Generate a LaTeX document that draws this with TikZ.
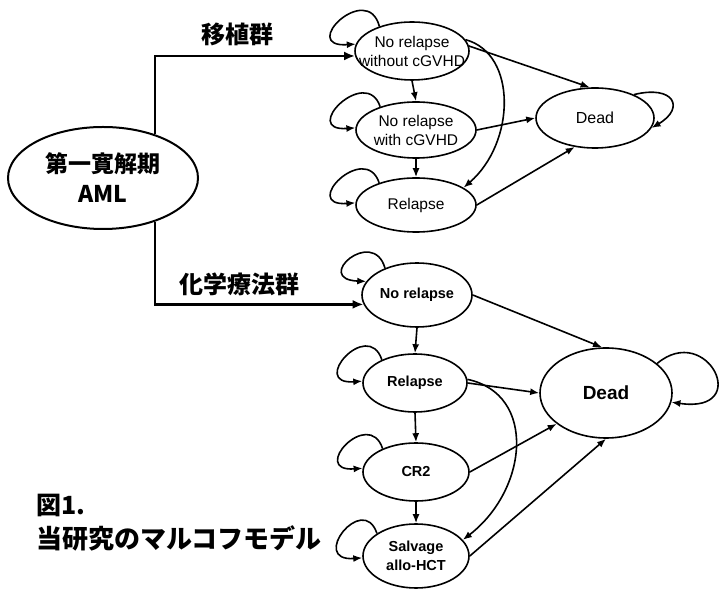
\documentclass[tikz,border=0pt]{standalone}
\usepackage{fontspec}
\setmainfont{Liberation Sans}
\newfontfamily\cjk{Noto Sans CJK JP}
\usetikzlibrary{shapes.geometric,arrows.meta}
\begin{document}
\begin{tikzpicture}[x=1pt,y=1pt,
  st/.style={ellipse,draw,line width=1.6pt,fill=white,inner xsep=-14pt,inner ysep=-8pt,align=center,font=\fontsize{15.5}{19}\selectfont},
  stb/.style={st,font=\fontsize{14.5}{19}\selectfont\bfseries},
  main/.style={line width=2.2pt,-{Latex[length=11pt,width=9pt]}},
  ed/.style={line width=1.6pt,-{Latex[length=9pt,width=7pt]}},
  grp/.style={font=\cjk\bfseries\fontsize{24}{26}\selectfont},
  captext/.style={anchor=west,inner sep=0pt,font=\cjk\bfseries\fontsize{26}{28}\selectfont}]
\useasboundingbox (0,0) rectangle (725,591);
% top cluster
\node[st,minimum width=114,minimum height=58] (n1) at (412,540) {No relapse\\without cGVHD};
\node[st,minimum width=120,minimum height=56] (n2) at (416,461) {No relapse\\with cGVHD};
\node[st,minimum width=120,minimum height=54] (n3) at (416,386) {Relapse};
\node[st,minimum width=118,minimum height=60,font=\fontsize{16}{18}\selectfont] (d1) at (595,473) {Dead};
% bottom cluster
\node[stb,minimum width=110,minimum height=64] (b1) at (417,296) {No relapse};
\node[stb,minimum width=104,minimum height=58] (b2) at (415,208) {Relapse};
\node[stb,minimum width=106,minimum height=58] (b3) at (416,119) {CR2};
\node[stb,minimum width=106,minimum height=64] (b4) at (416,35) {Salvage\\allo-HCT};
\node[stb,minimum width=132,minimum height=90,font=\fontsize{19}{22}\selectfont\bfseries] (d2) at (606,198) {Dead};
% start node
\node[st,line width=2pt,minimum width=190,minimum height=102,font=\cjk\bfseries\fontsize{23}{30}\selectfont] (aml) at (103,413) {第一寛解期\\AML};
% group labels
\node[grp] (g1) at (237,557) {移植群};
\node[grp] (g2) at (239,307) {化学療法群};
% caption
\node[captext,font=\cjk\bfseries\fontsize{25}{28}\selectfont] (c1) at (36,86) {図1.};
\node[captext] (c2) at (36,53) {当研究のマルコフモデル};
% main connectors
\draw[main] (aml.40) |- (n1.185);
\draw[main] (aml.-40) |- (b1.190);
% top edges
\draw[ed] (n1.south) -- (n2.north);
\draw[ed] (n2.south) -- (n3.north);
\draw[ed] (n1.5) -- (d1.100);
\draw[ed] (n2.east) -- (d1.west);
\draw[ed] (n3.east) -- (d1.235);
\draw[ed] (n1.12) .. controls +(52,-14) and +(52,45) .. (n3.20);
\draw[ed] (n1.143) .. controls +(-12,46) and +(-58,-4) .. (n1.173);
\draw[ed] (n2.147) .. controls +(-14,42) and +(-56,-4) .. (n2.178);
\draw[ed] (n3.149) .. controls +(-14,42) and +(-56,-4) .. (n3.178);
\draw[ed] (d1.31) .. controls +(40,10) and +(34,20) .. (d1.-10);
% bottom edges
\draw[ed] (b1.south) -- (b2.north);
\draw[ed] (b2.south) -- (b3.north);
\draw[ed] (b3.south) -- (b4.north);
\draw[ed] (b1.east) -- (d2.95);
\draw[ed] (b2.east) -- (d2.west);
\draw[ed] (b3.east) -- (d2.212);
\draw[ed] (b4.east) -- (d2.south);
\draw[ed] (b2.4) .. controls +(70,-15) and +(65,50) .. (b4.19);
\draw[ed] (b1.140) .. controls +(-12,42) and +(-54,2) .. (b1.165);
\draw[ed] (b2.145) .. controls +(-14,42) and +(-54,-4) .. (b2.178);
\draw[ed] (b3.145) .. controls +(-14,42) and +(-54,-4) .. (b3.176);
\draw[ed] (b4.150) .. controls +(-14,42) and +(-54,-4) .. (b4.182);
\draw[ed] (d2.30) .. controls +(50,42) and +(82,-12) .. (d2.-8);
\end{tikzpicture}
\end{document}
